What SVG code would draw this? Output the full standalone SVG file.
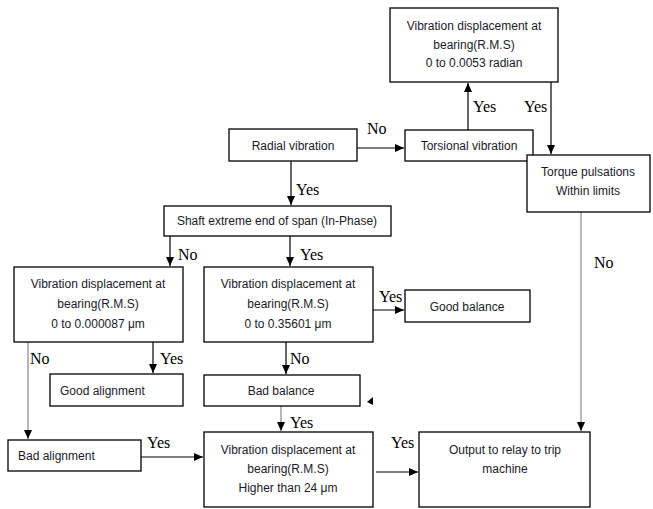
<svg xmlns="http://www.w3.org/2000/svg" width="653" height="509" viewBox="0 0 653 509">
<style>
.box{fill:#fff;stroke:#000;stroke-width:1.3}
.t{font-family:"Liberation Sans",Arial,sans-serif;font-size:12px;fill:#1a1a2a;text-anchor:middle}
.l{font-family:"Liberation Serif","Times New Roman",serif;font-size:16px;fill:#000}
.c{stroke:#000;stroke-width:1.2;fill:none}
.g{stroke:#888;stroke-width:1.2;fill:none}
</style>
<defs>
<marker id="a" markerWidth="10" markerHeight="10" refX="9" refY="5" orient="auto" markerUnits="userSpaceOnUse">
<path d="M0,1 L9,5 L0,9 z" fill="#000"/>
</marker>
</defs>
<rect width="653" height="509" fill="#fff"/>
<g id="connectors">
<line class="c" x1="357" y1="148" x2="404" y2="148" marker-end="url(#a)"/>
<line class="c" x1="468" y1="130" x2="468" y2="83" marker-end="url(#a)"/>
<line class="c" x1="551" y1="82" x2="551" y2="154" marker-end="url(#a)"/>
<line class="c" x1="291" y1="161" x2="291" y2="205" marker-end="url(#a)"/>
<line class="c" x1="170" y1="236" x2="170" y2="266" marker-end="url(#a)"/>
<line class="c" x1="290" y1="236" x2="290" y2="266" marker-end="url(#a)"/>
<line class="c" x1="153" y1="342" x2="153" y2="373" marker-end="url(#a)"/>
<line class="g" x1="28" y1="342" x2="28" y2="439" marker-end="url(#a)"/>
<line class="c" x1="370" y1="310" x2="404" y2="310" marker-end="url(#a)"/>
<line class="c" x1="286" y1="342" x2="286" y2="374" marker-end="url(#a)"/>
<line class="g" x1="281" y1="406" x2="281" y2="431" marker-end="url(#a)"/>
<line class="c" x1="141" y1="457" x2="203" y2="457" marker-end="url(#a)"/>
<line class="c" x1="376" y1="472" x2="418" y2="472" marker-end="url(#a)"/>
<line class="g" x1="581" y1="212" x2="581" y2="431" marker-end="url(#a)"/>
<path d="M367,402 L373,397 L373,405 z" fill="#000"/>
</g>
<g id="labels">
<text class="l" x="367" y="134">No</text>
<text class="l" x="473" y="112">Yes</text>
<text class="l" x="524" y="112">Yes</text>
<text class="l" x="296" y="195">Yes</text>
<text class="l" x="178" y="260">No</text>
<text class="l" x="300" y="260">Yes</text>
<text class="l" x="30" y="364">No</text>
<text class="l" x="160" y="364">Yes</text>
<text class="l" x="290" y="364">No</text>
<text class="l" x="379" y="302">Yes</text>
<text class="l" x="290" y="428">Yes</text>
<text class="l" x="147" y="448">Yes</text>
<text class="l" x="391" y="448">Yes</text>
<text class="l" x="594" y="268">No</text>
</g>
<g id="n-top"><rect class="box" x="390" y="8" width="168" height="74"/>
<text class="t" x="474" y="30">Vibration displacement at</text>
<text class="t" x="474" y="49">bearing(R.M.S)</text>
<text class="t" x="474" y="67">0 to 0.0053 radian</text></g>
<g id="n-radial"><rect class="box" x="229" y="129" width="128" height="32"/>
<text class="t" x="293" y="150">Radial vibration</text></g>
<g id="n-torsional"><rect class="box" x="405" y="130" width="128" height="31"/>
<text class="t" x="469" y="150">Torsional vibration</text></g>
<g id="n-torque"><rect class="box" x="527" y="155" width="123" height="57"/>
<text class="t" x="588" y="176">Torque pulsations</text>
<text class="t" x="588" y="195">Within limits</text></g>
<g id="n-shaft"><rect class="box" x="164" y="206" width="227" height="30"/>
<text class="t" x="277" y="225">Shaft extreme end of span (In-Phase)</text></g>
<g id="n-vib-left"><rect class="box" x="14" y="267" width="169" height="75"/>
<text class="t" x="98" y="288">Vibration displacement at</text>
<text class="t" x="98" y="308">bearing(R.M.S)</text>
<text class="t" x="98" y="328">0 to 0.000087 μm</text></g>
<g id="n-vib-mid"><rect class="box" x="204" y="267" width="169" height="75"/>
<text class="t" x="288" y="288">Vibration displacement at</text>
<text class="t" x="288" y="308">bearing(R.M.S)</text>
<text class="t" x="288" y="328">0 to 0.35601 μm</text></g>
<g id="n-good-balance"><rect class="box" x="405" y="290" width="125" height="32"/>
<text class="t" x="467" y="311">Good balance</text></g>
<g id="n-good-alignment"><rect class="box" x="50" y="374" width="133" height="32"/>
<text class="t" x="60" y="395" style="text-anchor:start">Good alignment</text></g>
<g id="n-bad-balance"><rect class="box" x="204" y="375" width="156" height="31"/>
<text class="t" x="281" y="395">Bad balance</text></g>
<g id="n-bad-alignment"><rect class="box" x="8" y="440" width="133" height="31"/>
<text class="t" x="18" y="460" style="text-anchor:start">Bad alignment</text></g>
<g id="n-vib-bottom"><rect class="box" x="204" y="432" width="169" height="75"/>
<text class="t" x="288" y="454">Vibration displacement at</text>
<text class="t" x="288" y="473">bearing(R.M.S)</text>
<text class="t" x="288" y="492">Higher than 24 μm</text></g>
<g id="n-output"><rect class="box" x="419" y="432" width="171" height="75"/>
<text class="t" x="505" y="454">Output to relay to trip</text>
<text class="t" x="505" y="473">machine</text></g>
</svg>
